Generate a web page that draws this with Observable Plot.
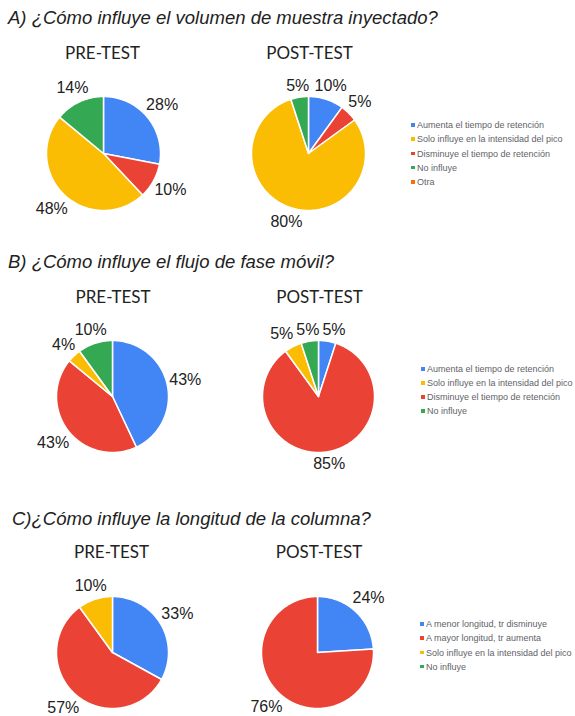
<!DOCTYPE html>
<html><head><meta charset="utf-8">
<script src="https://cdn.jsdelivr.net/npm/d3@7"></script>
<script src="https://cdn.jsdelivr.net/npm/@observablehq/plot@0.6"></script>
<style>
body{margin:0;background:#fff;}
#root{position:relative;width:575px;height:716px;overflow:hidden;background:#fff;font-family:"Liberation Sans",Arial,sans-serif;}
.title{position:absolute;font-style:italic;font-size:18.5px;line-height:18.5px;color:#222;white-space:nowrap;}
.sub{position:absolute;font-family:Lato,"Open Sans",sans-serif;font-size:17px;line-height:17px;color:#222;white-space:nowrap;transform:translateX(-50%);}
.pie{position:absolute;width:200px;height:200px;}
.leg{position:absolute;font-size:9px;line-height:10px;color:#5f6368;white-space:nowrap;}
.leg .sw{display:inline-block;width:3.5px;height:3.5px;margin-right:2.5px;vertical-align:1.5px;}
</style></head><body><div id="root"></div>
<script>
// ---------- data ----------
const titles = [
  "A) ¿Cómo influye el volumen de muestra inyectado?",
  "B) ¿Cómo influye el flujo de fase móvil?",
  "C)¿Cómo influye la longitud de la columna?"
];
const panelLabels = ["PRE-TEST", "POST-TEST"];

const legendA = ["Aumenta el tiempo de retención", "Solo influye en la intensidad del pico", "Disminuye el tiempo de retención", "No influye", "Otra"];
const colorsA = ["#4285f4", "#fbbc04", "#ea4335", "#34a853", "#ff6d01"];
const sliceOrderA = ["Aumenta el tiempo de retención", "Disminuye el tiempo de retención", "Solo influye en la intensidad del pico", "No influye", "Otra"];
const preA = [28, 48, 10, 14, 0];
const postA = [10, 80, 5, 5, 0];

const legendB = ["Aumenta el tiempo de retención", "Solo influye en la intensidad del pico", "Disminuye el tiempo de retención", "No influye"];
const colorsB = ["#4285f4", "#fbbc04", "#ea4335", "#34a853"];
const sliceOrderB = ["Aumenta el tiempo de retención", "Disminuye el tiempo de retención", "Solo influye en la intensidad del pico", "No influye"];
const preB = [43, 4, 43, 10];
const postB = [5, 5, 85, 5];

const legendC = ["A menor longitud, tr disminuye", "A mayor longitud, tr aumenta", "Solo influye en la intensidad del pico", "No influye"];
const colorsC = ["#4285f4", "#ea4335", "#fbbc04", "#34a853"];
const sliceOrderC = ["A menor longitud, tr disminuye", "A mayor longitud, tr aumenta", "Solo influye en la intensidad del pico", "No influye"];
const preC = [33, 57, 10, 0];
const postC = [24, 76, 0, 0];

// ---------- layout ----------
const layout = [
  {title: titles[0], tx: 8, tBase: 25, subBase: 59.3, subX: [102.5, 309.5], pies: [[103, 153], [308, 153]], r: 57,
   legend: legendA, colors: colorsA, order: sliceOrderA, values: [preA, postA], lx: 411, ly: 125, lstep: 14.3},
  {title: titles[1], tx: 8, tBase: 269, subBase: 303.3, subX: [113, 319.5], pies: [[112, 396], [318, 396]], r: 56,
   legend: legendB, colors: colorsB, order: sliceOrderB, values: [preB, postB], lx: 421, ly: 369, lstep: 14},
  {title: titles[2], tx: 12, tBase: 526, subBase: 557.7, subX: [111.5, 319], pies: [[112, 652], [317, 652]], r: 56,
   legend: legendC, colors: colorsC, order: sliceOrderC, values: [preC, postC], lx: 420, ly: 624, lstep: 14.3}
];

const ctx = document.createElement("canvas").getContext("2d");
ctx.font = "16px 'Liberation Sans'";

function pieChart(values, cats, colors, order, r) {
  const S = 200;
  const data = order.map(c => ({cat: c, v: values[cats.indexOf(c)]}));
  const arcs = d3.pie().sort(null).value(d => d.v)(data);
  const pts = [], labels = [];
  for (const a of arcs) {
    if (!(a.data.v > 0)) continue;
    const span = a.endAngle - a.startAngle;
    const n = Math.max(2, Math.ceil(span / (Math.PI / 180)));
    pts.push({cat: a.data.cat, x: 0, y: 0});
    for (let i = 0; i <= n; i++) {
      const t = a.startAngle + span * i / n;
      pts.push({cat: a.data.cat, x: Math.sin(t), y: Math.cos(t)});
    }
    pts.push({cat: a.data.cat, x: 0, y: 0});
    const mid = (a.startAngle + a.endAngle) / 2;
    const text = a.data.v + "%";
    const w = ctx.measureText(text).width;
    const ext = Math.abs(Math.sin(mid)) * w / 2 + Math.abs(Math.cos(mid)) * 9;
    const d = r + 1 + ext;
    labels.push({text, w, px: d * Math.sin(mid), py: -d * Math.cos(mid)});
  }
  for (let k = 0; k < 40; k++) {
    for (let i = 0; i < labels.length; i++) for (let j = i + 1; j < labels.length; j++) {
      const A = labels[i], B = labels[j];
      const dx = B.px - A.px, dy = B.py - A.py;
      const need = (A.w + B.w) / 2 + 3;
      if (Math.abs(dy) < 14 && Math.abs(dx) < need) {
        const s = (need - Math.abs(dx)) / 2 * (dx >= 0 ? 1 : -1);
        A.px -= s; B.px += s;
      }
    }
  }
  labels.forEach(l => { l.x = l.px / r; l.y = -l.py / r; });
  const h = S / 2 / r;
  return Plot.plot({
    width: S, height: S, margin: 0,
    x: {domain: [-h, h], axis: null},
    y: {domain: [-h, h], axis: null},
    color: {domain: cats, range: colors},
    style: {background: "transparent", overflow: "visible", fontFamily: "'Liberation Sans', Arial, sans-serif"},
    marks: [
      Plot.line(pts, {x: "x", y: "y", z: "cat", fill: "cat", stroke: "#ffffff", strokeWidth: 1.5, strokeLinejoin: "round"}),
      Plot.text(labels, {x: "x", y: "y", text: "text", fontSize: 16, fill: "#222"})
    ]
  });
}

const root = document.getElementById("root");
for (const sec of layout) {
  const t = document.createElement("div");
  t.className = "title";
  t.textContent = sec.title;
  t.style.left = sec.tx + "px";
  t.style.top = (sec.tBase - 0.8465 * 18.5) + "px";
  root.appendChild(t);
  panelLabels.forEach((lab, i) => {
    const s = document.createElement("div");
    s.className = "sub";
    s.textContent = lab;
    s.style.left = sec.subX[i] + "px";
    s.style.top = (sec.subBase - 15.1) + "px";
    root.appendChild(s);
    const p = document.createElement("div");
    p.className = "pie";
    p.style.left = (sec.pies[i][0] - 100) + "px";
    p.style.top = (sec.pies[i][1] - 100) + "px";
    p.appendChild(pieChart(sec.values[i], sec.legend, sec.colors, sec.order, sec.r));
    root.appendChild(p);
  });
  sec.legend.forEach((name, i) => {
    const l = document.createElement("div");
    l.className = "leg";
    l.style.left = sec.lx + "px";
    l.style.top = (sec.ly + i * sec.lstep - 5) + "px";
    const sw = document.createElement("span");
    sw.className = "sw";
    sw.style.background = sec.colors[i];
    l.appendChild(sw);
    l.appendChild(document.createTextNode(name));
    root.appendChild(l);
  });
}
</script></body></html>
